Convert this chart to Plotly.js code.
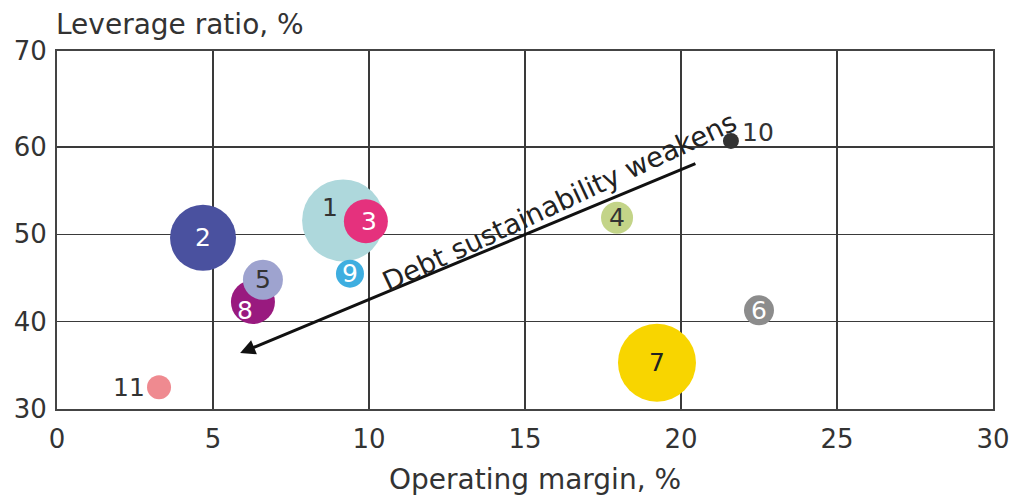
<!DOCTYPE html>
<html>
<head>
<meta charset="utf-8">
<script src="https://cdn.plot.ly/plotly-3.0.1.min.js"></script>
<style>html,body{margin:0;padding:0;background:#fff;}#chart{width:1013px;height:498px;}</style>
</head>
<body>
<div id="chart"></div>
<script>
// Data (drawing order: 8 before 5 so 5 sits on top)
const labels = ["1", "2", "3", "4", "6", "7", "8", "5", "9", "10", "11"];
const operatingMargin = [9.17, 4.68, 9.9, 17.95, 22.5, 19.23, 6.28, 6.6, 9.39, 21.6, 3.27];
const leverageRatio = [51.6, 49.6, 51.5, 51.9, 41.3, 35.3, 42.25, 44.8, 45.5, 60.7, 32.5];
const bubbleSize = [82, 66, 44, 32, 30, 78, 44, 40, 28, 16, 24];
const bubbleColors = ["#aed8dc", "#4a519f", "#e5317d", "#c3d488", "#8c8c8c", "#f8d500", "#991a7f", "#9ea3cf", "#3eaee0", "#333333", "#ef8a90"];
const labelColors = ["#333333", "#ffffff", "#ffffff", "#333333", "#ffffff", "#222222", "#ffffff", "#333333", "#ffffff", "#333333", "#333333"];
const labelShiftX = [-13, 0, 3, 0, 0, 0, -8, 0, 0, 27, -30];
const labelShiftY = [13, 0, 0, 0, 0, 0, -8, 0, 0, 8, 0];

const yTickVals = [30, 40, 50, 60, 71];
const yTickText = ["30", "40", "50", "60", "70"];
const xTickVals = [0, 5, 10, 15, 20, 25, 30];

const arrowTail = [20.51, 58.17];
const arrowHead = [5.87, 36.41];

const FONT = "DejaVu Sans, sans-serif";

const trace = {
  type: "scatter",
  mode: "markers",
  x: operatingMargin,
  y: leverageRatio,
  marker: {size: bubbleSize, sizemode: "diameter", color: bubbleColors, opacity: 1, line: {width: 0}},
  hoverinfo: "skip",
  cliponaxis: false
};

const annotations = labels.map((t, i) => ({
  x: operatingMargin[i], y: leverageRatio[i], xref: "x", yref: "y",
  text: t, showarrow: false, xshift: labelShiftX[i], yshift: labelShiftY[i],
  font: {family: FONT, size: 25, color: labelColors[i]}
}));

annotations.push({
  x: arrowHead[0], y: arrowHead[1], ax: arrowTail[0], ay: arrowTail[1],
  xref: "x", yref: "y", axref: "x", ayref: "y",
  showarrow: true, arrowhead: 2, arrowsize: 1, arrowwidth: 3, arrowcolor: "#111", text: ""
});
annotations.push({
  x: 16.12, y: 53.8, xref: "x", yref: "y", text: "Debt sustainability weakens",
  showarrow: false, textangle: -25, font: {family: FONT, size: 27.5, color: "#222"}
});
annotations.push({
  x: -0.003, y: 1.075, xref: "paper", yref: "paper", xanchor: "left", yanchor: "middle",
  text: "Leverage ratio, %", showarrow: false, font: {family: FONT, size: 28, color: "#333"}
});
annotations.push({
  x: 0.511, y: -0.198, xref: "paper", yref: "paper", xanchor: "center", yanchor: "middle",
  text: "Operating margin, %", showarrow: false, font: {family: FONT, size: 28, color: "#333"}
});

const layout = {
  width: 1013, height: 498,
  margin: {l: 57, r: 20, t: 51, b: 89},
  paper_bgcolor: "#fff", plot_bgcolor: "#fff",
  showlegend: false,
  font: {family: FONT, color: "#333"},
  xaxis: {
    range: [0, 30], tickvals: xTickVals, showgrid: true, gridcolor: "#3a3a3a", gridwidth: 1.5,
    zeroline: false, showline: true, linecolor: "#444", linewidth: 2, mirror: true,
    ticks: "", ticklabelstandoff: 6, tickfont: {family: FONT, size: 26, color: "#333"}, fixedrange: true
  },
  yaxis: {
    range: [30, 71], tickvals: yTickVals, ticktext: yTickText, showgrid: true, gridcolor: "#3a3a3a", gridwidth: 1.5,
    zeroline: false, showline: true, linecolor: "#444", linewidth: 2, mirror: true,
    ticks: "", ticklabelstandoff: 3, tickfont: {family: FONT, size: 26, color: "#333"}, fixedrange: true
  },
  annotations: annotations
};

Plotly.newPlot("chart", [trace], layout, {displayModeBar: false, staticPlot: true});
</script>
</body>
</html>
